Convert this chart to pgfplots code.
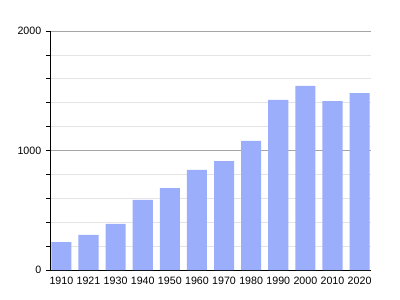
\documentclass[border=0pt]{standalone}
\usepackage{pgfplots}
\pgfplotsset{compat=1.18}
\usepackage{fontspec}
\setmainfont{Liberation Sans}
\definecolor{barc}{RGB}{155,174,252}
\definecolor{minorg}{RGB}{228,228,228}
\definecolor{majorg}{RGB}{165,165,165}
\begin{document}
\begin{tikzpicture}
\begin{axis}[
  scale only axis,
  width=240.75pt, height=179.25pt,
  xmin=-0.42, xmax=11.42,
  ymin=0, ymax=2000,
  axis x line*=bottom,
  axis y line*=left,
  xtick=data,
  xticklabels={1910,1921,1930,1940,1950,1960,1970,1980,1990,2000,2010,2020},
  xtick style={draw=none},
  ytick={0,1000,2000},
  minor ytick={200,400,600,800,1200,1400,1600,1800},
  ymajorgrids, yminorgrids,
  major grid style={majorg, line width=0.6pt},
  minor grid style={minorg, line width=0.6pt},
  tick align=outside,
  major tick length=3pt,
  minor tick length=3pt,
  ytick style={black, line width=0.5pt},
  axis line style={black, line width=0.7pt},
  tick label style={font=\fontsize{8}{9}\selectfont},
  /pgf/number format/assume math mode=true,
  /pgf/number format/1000 sep={},
  xticklabel style={yshift=1pt},
  yticklabel style={xshift=0pt},
  ybar, bar width=0.74, bar shift=0pt,
  axis on top=false,
  clip=false,
]
\addplot[fill=barc, draw=none] coordinates {
(0,234) (1,293) (2,385) (3,586) (4,686) (5,837)
(6,912) (7,1080) (8,1423) (9,1540) (10,1414) (11,1481)};
\end{axis}
\pgfresetboundingbox
\path (current axis.south west) ++(-37.5pt,-22.5pt) coordinate (bl);
\path (current axis.north east) ++(21.75pt,23.25pt) coordinate (tr);
\path[use as bounding box] (bl) rectangle (tr);
\end{tikzpicture}
\end{document}
